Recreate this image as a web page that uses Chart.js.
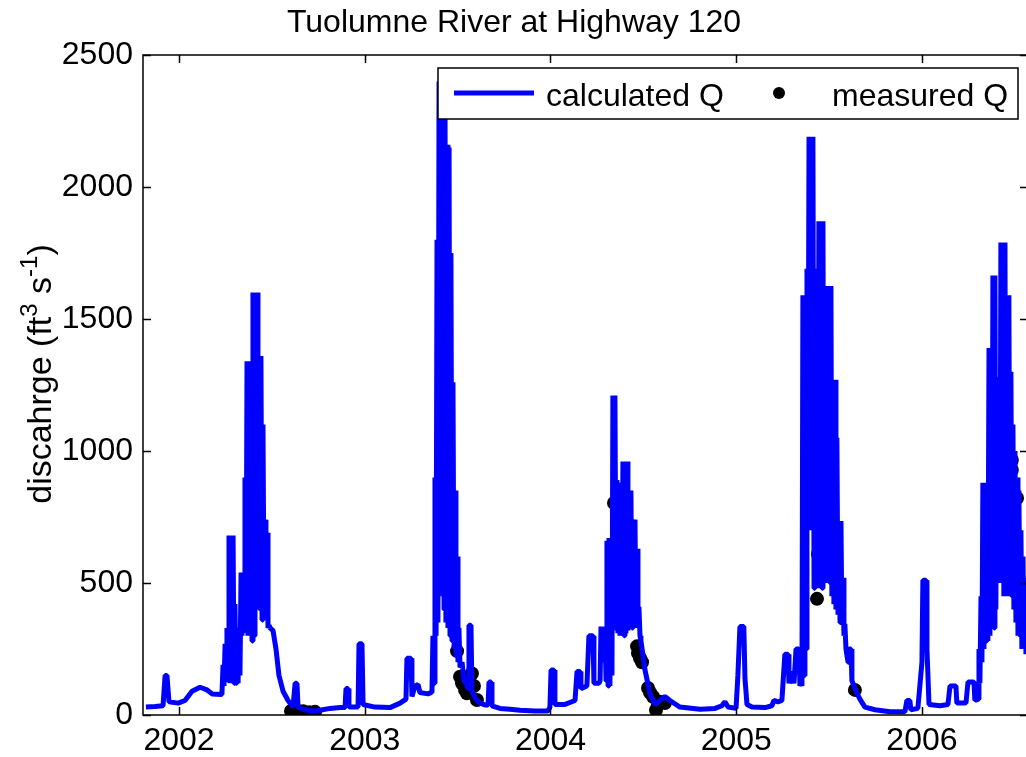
<!DOCTYPE html>
<html>
<head>
<meta charset="utf-8">
<title>Tuolumne River at Highway 120</title>
<script src="https://cdn.jsdelivr.net/npm/chart.js@4.4.1/dist/chart.umd.min.js"></script>
<style>
    html, body { margin: 0; padding: 0; background: #fff; overflow: hidden; }
    #wrap { width: 1171px; height: 757px; }
</style>
</head>
<body>
<div id="wrap"><canvas id="flowChart" width="1171" height="757"></canvas></div>
<script>
// calculated discharge (decimal year, ft3/s)
const calcYears = [
    // winter 2001-02
    2001.822, 2001.871, 2001.914, 2001.925, 2001.935, 2001.946, 2001.995, 2002.032, 2002.070, 2002.113,
    2002.151, 2002.178, 2002.231,
    // 2002 melt
    2002.237, 2002.242, 2002.248, 2002.253, 2002.258, 2002.264, 2002.269, 2002.275, 2002.280, 2002.285,
    2002.291, 2002.296, 2002.301, 2002.307, 2002.312, 2002.318, 2002.323, 2002.328, 2002.334, 2002.339,
    2002.345, 2002.350, 2002.355, 2002.361, 2002.366, 2002.371, 2002.377, 2002.382, 2002.388, 2002.393,
    2002.398, 2002.404, 2002.409, 2002.415, 2002.420, 2002.425, 2002.431, 2002.436, 2002.441, 2002.447,
    2002.452, 2002.458, 2002.463, 2002.468, 2002.474, 2002.479, 2002.485, 2002.490,
    2002.506, 2002.522, 2002.538, 2002.560, 2002.587, 2002.614, 2002.625, 2002.635, 2002.641, 2002.678,
    // low flow
    2002.716, 2002.759, 2002.813, 2002.867, 2002.894, 2002.899, 2002.910, 2002.915, 2002.964, 2002.969,
    2002.985, 2002.991, 2003.055, 2003.136, 2003.190, 2003.222, 2003.227, 2003.249, 2003.254, 2003.271,
    2003.287, 2003.297, 2003.341, 2003.357,
    // 2003 melt
    2003.362, 2003.367, 2003.373, 2003.378, 2003.384, 2003.389, 2003.394, 2003.400, 2003.405, 2003.410,
    2003.416, 2003.421, 2003.427, 2003.432, 2003.437, 2003.443, 2003.448, 2003.454, 2003.459, 2003.464,
    2003.470, 2003.475, 2003.481, 2003.486, 2003.491, 2003.497, 2003.502, 2003.507, 2003.513,
    2003.524, 2003.534, 2003.545, 2003.556, 2003.561, 2003.572, 2003.577, 2003.599, 2003.620, 2003.647,
    2003.664, 2003.669, 2003.680, 2003.685, 2003.728,
    // low flow
    2003.782, 2003.836, 2003.917, 2003.987, 2003.997, 2004.003, 2004.019, 2004.024, 2004.078, 2004.132,
    2004.143, 2004.159, 2004.164, 2004.196, 2004.207, 2004.229, 2004.234, 2004.261,
    // 2004 melt
    2004.267, 2004.272, 2004.277, 2004.283, 2004.288, 2004.293, 2004.299, 2004.304, 2004.310, 2004.315,
    2004.320, 2004.326, 2004.331, 2004.336, 2004.342, 2004.347, 2004.353, 2004.358, 2004.363, 2004.369,
    2004.374, 2004.380, 2004.385, 2004.390, 2004.396, 2004.401, 2004.406, 2004.412, 2004.417, 2004.423,
    2004.428, 2004.433, 2004.439, 2004.444, 2004.450, 2004.455, 2004.460, 2004.466, 2004.471, 2004.476,
    2004.482, 2004.487,
    2004.509, 2004.536, 2004.563, 2004.590, 2004.616, 2004.643, 2004.697, 2004.805, 2004.886, 2004.923,
    2004.939, 2004.956, 2004.999, 2005.009, 2005.020, 2005.041, 2005.047, 2005.058,
    // low flow
    2005.085, 2005.155, 2005.192, 2005.203, 2005.225, 2005.246, 2005.262, 2005.279, 2005.284, 2005.300,
    2005.311, 2005.322, 2005.338,
    // 2005 melt
    2005.343, 2005.349, 2005.354, 2005.359, 2005.365, 2005.370, 2005.376, 2005.381, 2005.386, 2005.392,
    2005.397, 2005.402, 2005.408, 2005.413, 2005.419, 2005.424, 2005.429, 2005.435, 2005.440, 2005.445,
    2005.451, 2005.456, 2005.462, 2005.467, 2005.472, 2005.478, 2005.483, 2005.489, 2005.494, 2005.499,
    2005.505, 2005.510, 2005.515, 2005.521, 2005.526, 2005.532, 2005.537, 2005.542, 2005.548, 2005.553,
    2005.559, 2005.564, 2005.569, 2005.575, 2005.580, 2005.585, 2005.591,
    2005.602, 2005.607, 2005.618, 2005.623, 2005.645, 2005.666, 2005.693, 2005.747, 2005.828, 2005.908,
    // low flow
    2005.919, 2005.935, 2005.940, 2005.978, 2006.000, 2006.005, 2006.022, 2006.027, 2006.038, 2006.097,
    2006.140, 2006.151, 2006.183, 2006.188, 2006.237, 2006.248, 2006.280, 2006.285,
    // 2006 melt
    2006.302, 2006.307, 2006.312, 2006.318, 2006.323, 2006.328, 2006.334, 2006.339, 2006.345, 2006.350,
    2006.355, 2006.361, 2006.366, 2006.371, 2006.377, 2006.382, 2006.388, 2006.393, 2006.398, 2006.404,
    2006.409, 2006.415, 2006.420, 2006.425, 2006.431, 2006.436, 2006.441, 2006.447, 2006.452, 2006.458,
    2006.463, 2006.468, 2006.474, 2006.479, 2006.485, 2006.490, 2006.495, 2006.501, 2006.506, 2006.512,
    2006.517, 2006.522, 2006.528, 2006.533, 2006.538, 2006.544, 2006.549, 2006.555, 2006.560, 2006.571
];
const calcQ = [
    30, 32, 35, 150, 150, 50, 45, 55, 90, 105,
    95, 80, 78,

    190, 110, 270, 150, 330, 130, 680, 140, 680, 120,
    680, 120, 420, 120, 330, 120, 330, 150, 540, 300,
    540, 320, 900, 320, 1340, 300, 1340, 300, 1340, 280,
    1600, 300, 1600, 600, 1600, 700, 1360, 400, 1360, 360,
    1100, 360, 740, 360, 690, 330, 340, 330,
    320, 250, 150, 90, 55, 30, 120, 120, 30, 20,

    15, 18, 25, 28, 28, 100, 100, 30, 30, 270,
    270, 40, 30, 28, 45, 60, 215, 215, 70, 110,
    115, 85, 80, 85,

    90, 300, 120, 900, 300, 1800, 350, 2400, 450, 2400,
    500, 2400, 400, 2400, 350, 2160, 330, 2150, 300, 1750,
    280, 1260, 250, 850, 220, 600, 200, 330, 180,
    200, 130, 120, 100, 340, 340, 90, 60, 45, 38,
    38, 125, 125, 35, 25,

    22, 18, 15, 15, 30, 170, 170, 40, 40, 55,
    165, 165, 100, 110, 300, 300, 120, 120,

    130, 335, 200, 335, 200, 335, 130, 660, 110, 670,
    110, 670, 150, 1210, 330, 1210, 330, 890, 310, 880,
    300, 880, 300, 960, 300, 960, 310, 960, 320, 850,
    330, 850, 330, 740, 340, 740, 330, 630, 400, 410,
    300, 280,
    170, 80, 40, 55, 70, 55, 30, 22, 25, 35,
    50, 30, 25, 150, 335, 335, 140, 40,

    30, 28, 35, 55, 50, 55, 230, 230, 120, 165,
    120, 250, 250,

    110, 130, 110, 1590, 150, 1590, 250, 1690, 830, 2190,
    830, 2190, 700, 2190, 480, 1690, 480, 1690, 480, 1870,
    480, 1870, 480, 1870, 500, 1300, 520, 1625, 500, 1625,
    500, 1625, 450, 1270, 420, 1270, 400, 1050, 380, 735,
    350, 735, 345, 520, 300, 345, 250,
    200, 250, 250, 130, 90, 60, 30, 20, 12, 12,

    55, 55, 20, 25, 200, 510, 510, 250, 40, 35,
    40, 110, 110, 45, 45, 125, 125, 55,

    60, 250, 120, 450, 200, 880, 250, 880, 280, 880,
    280, 1390, 300, 1390, 330, 1665, 330, 1665, 400, 1280,
    600, 1280, 500, 1790, 500, 1790, 450, 1790, 450, 1590,
    450, 1590, 450, 1300, 450, 1100, 400, 1000, 350, 900,
    300, 850, 300, 700, 250, 600, 250, 520, 230, 500
];

// measured discharge
const measYears = [
    2002.603, 2002.625, 2002.646, 2002.668, 2002.700, 2002.732,
    2003.470, 2003.497, 2003.513, 2003.524, 2003.540, 2003.550, 2003.567, 2003.577, 2003.588, 2003.604,
    2004.342, 2004.466, 2004.471, 2004.482, 2004.493, 2004.525, 2004.536, 2004.552, 2004.568, 2004.579,
    2004.590, 2004.616,
    2005.445, 2005.462, 2005.440, 2005.451, 2005.445, 2005.462, 2005.440, 2005.435, 2005.639,
    2006.484, 2006.484, 2006.458, 2006.512, 2006.463, 2006.501, 2006.458, 2006.452, 2006.544
];
const measQ = [
    15, 22, 10, 14, 10, 12,
    420, 242, 145, 120, 95, 82, 150, 157, 110, 57,
    803, 260, 235, 215, 200, 102, 85, 69, 19, 40,
    50, 45,
    980, 960, 910, 900, 760, 660, 610, 440, 95,
    966, 928, 840, 822, 746, 674, 612, 600, 322
];

const yTicks = [0, 500, 1000, 1500, 2000, 2500];
const xTicks = [2002, 2003, 2004, 2005, 2006];

const BLUE = '#0000ff';
const FONT = '"Liberation Sans", Arial, sans-serif';

// box, inward ticks and the legend, drawn over the data like matlab does
const axesFrame = {
    id: 'axesFrame',
    afterDatasetsDraw(chart) {
        const { ctx, chartArea: a, scales: { x, y } } = chart;
        ctx.save();
        ctx.strokeStyle = '#000';
        ctx.lineWidth = 1.5;
        ctx.strokeRect(a.left, a.top, a.right - a.left, a.bottom - a.top);

        ctx.beginPath();
        x.ticks.forEach(t => {
            const px = Math.round(x.getPixelForValue(t.value)) + 0.5;
            ctx.moveTo(px, a.bottom); ctx.lineTo(px, a.bottom - 8);
            ctx.moveTo(px, a.top); ctx.lineTo(px, a.top + 8);
        });
        y.ticks.forEach(t => {
            const py = Math.round(y.getPixelForValue(t.value)) + 0.5;
            ctx.moveTo(a.left, py); ctx.lineTo(a.left + 8, py);
            ctx.moveTo(a.right, py); ctx.lineTo(a.right - 8, py);
        });
        ctx.stroke();

        // legend
        const bw = 580, bh = 51;
        const bx = a.right - 10 - bw, by = a.top + 13;
        ctx.fillStyle = '#fff';
        ctx.fillRect(bx, by, bw, bh);
        ctx.strokeRect(bx, by, bw, bh);

        ctx.strokeStyle = BLUE;
        ctx.lineWidth = 5;
        ctx.beginPath();
        ctx.moveTo(bx + 16, by + 25);
        ctx.lineTo(bx + 96, by + 25);
        ctx.stroke();

        ctx.fillStyle = '#000';
        ctx.beginPath();
        ctx.arc(bx + 341, by + 25, 6, 0, Math.PI * 2);
        ctx.fill();

        ctx.font = '32px ' + FONT;
        ctx.textBaseline = 'alphabetic';
        ctx.textAlign = 'left';
        ctx.fillText('calculated Q', bx + 108, by + 38);
        ctx.fillText('measured Q', bx + 394, by + 38);
        ctx.restore();
    }
};

// y label with superscripts
const yLabel = {
    id: 'yLabel',
    afterDraw(chart) {
        const ctx = chart.ctx;
        const parts = [['discahrge (ft', false], ['3', true], [' s', false], ['-1', true], [')', false]];
        const big = '34px ' + FONT, small = '24px ' + FONT;
        ctx.save();
        let total = 0;
        parts.forEach(p => { ctx.font = p[1] ? small : big; total += ctx.measureText(p[0]).width; });
        ctx.translate(51, 374);
        ctx.rotate(-Math.PI / 2);
        ctx.fillStyle = '#000';
        ctx.textBaseline = 'alphabetic';
        let pos = -total / 2;
        parts.forEach(p => {
            ctx.font = p[1] ? small : big;
            ctx.fillText(p[0], pos, p[1] ? -14 : 0);
            pos += ctx.measureText(p[0]).width;
        });
        ctx.restore();
    }
};

document.addEventListener('DOMContentLoaded', function() {
    Chart.defaults.font.family = FONT;
    Chart.defaults.color = '#000';

    const ctx = document.getElementById('flowChart').getContext('2d');
    new Chart(ctx, {
        type: 'scatter',
        data: {
            datasets: [{
                label: 'calculated Q',
                data: calcYears.map((yr, i) => ({ x: yr, y: calcQ[i] })),
                showLine: true,
                borderColor: BLUE,
                backgroundColor: BLUE,
                borderWidth: 5,
                borderJoinStyle: 'bevel',
                pointRadius: 0,
                tension: 0
            }, {
                label: 'measured Q',
                data: measYears.map((yr, i) => ({ x: yr, y: measQ[i] })),
                showLine: false,
                pointRadius: 7,
                pointBackgroundColor: '#000',
                pointBorderWidth: 0
            }]
        },
        options: {
            responsive: false,
            animation: false,
            events: [],
            layout: { padding: { right: 143 } },
            plugins: {
                legend: { display: false },
                tooltip: { enabled: false },
                title: {
                    display: true,
                    text: 'Tuolumne River at Highway 120',
                    font: { size: 32, weight: 'normal' },
                    color: '#000',
                    padding: { top: 4, bottom: 12.6 }
                }
            },
            scales: {
                x: {
                    type: 'linear',
                    min: 2001.806,
                    max: 2006.571,
                    afterBuildTicks: s => { s.ticks = xTicks.map(v => ({ value: v })); },
                    ticks: {
                        padding: 7,
                        maxRotation: 0,
                        autoSkip: false,
                        font: { size: 32 },
                        callback: v => String(v)
                    },
                    grid: { display: false, drawTicks: false },
                    border: { display: false },
                    afterFit: s => { s.height = 42; }
                },
                y: {
                    min: 0,
                    max: 2500,
                    afterBuildTicks: s => { s.ticks = yTicks.map(v => ({ value: v })); },
                    ticks: {
                        padding: 10,
                        font: { size: 32 },
                        callback: v => String(v)
                    },
                    grid: { display: false, drawTicks: false },
                    border: { display: false },
                    afterFit: s => { s.width = 143; }
                }
            }
        },
        plugins: [axesFrame, yLabel]
    });
});
</script>
</body>
</html>
